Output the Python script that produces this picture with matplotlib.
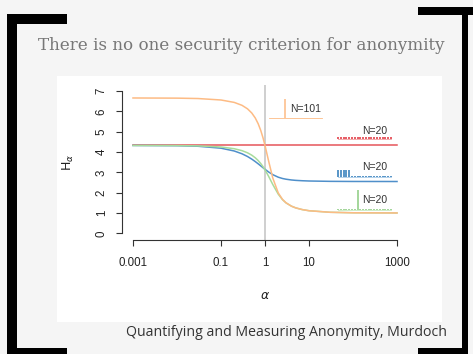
import matplotlib
matplotlib.use('Agg')
import matplotlib.pyplot as plt
import numpy as np
from matplotlib.patches import Rectangle

# Valeurs (entropie de Renyi H_alpha selon alpha)
alpha = [0.001, 0.01, 0.03, 0.1, 0.2, 0.3, 0.4, 0.5, 0.6, 0.7, 0.8, 0.9, 1,
         1.2, 1.5, 2, 2.5, 3, 4, 5, 7, 10, 30, 100, 1000]
h_orange = [6.657, 6.649, 6.630, 6.558, 6.439, 6.296, 6.124, 5.919, 5.675, 5.389,
            5.061, 4.702, 4.322, 3.583, 2.725, 1.986, 1.666, 1.500, 1.333, 1.250,
            1.167, 1.111, 1.034, 1.010, 1.001]
h_red = [4.322] * len(alpha)
h_blue = [4.321, 4.309, 4.282, 4.187, 4.049, 3.912, 3.778, 3.650, 3.529, 3.418,
          3.318, 3.228, 3.149, 3.020, 2.886, 2.760, 2.696, 2.661, 2.623, 2.604,
          2.586, 2.573, 2.556, 2.550, 2.548]
h_green = [4.321, 4.315, 4.300, 4.246, 4.161, 4.066, 3.961, 3.844, 3.716, 3.579,
           3.433, 3.281, 3.124, 2.815, 2.404, 1.926, 1.655, 1.498, 1.333, 1.250,
           1.167, 1.111, 1.034, 1.010, 1.001]

# Distributions des petits histogrammes
p_orange = [0.005] * 30 + [0.5] + [0.005] * 70
p_red = [0.05] * 20
p_blue = [0.171] * 5 + [0.0097] * 15
p_green = [0.0263] * 7 + [0.5] + [0.0263] * 12
labels_n = ['N=101', 'N=20', 'N=20', 'N=20']

xticks = [0.001, 0.1, 1, 10, 1000]
xtick_labels = ['0.001', '0.1', '1', '10', '1000']
yticks = [0, 1, 2, 3, 4, 5, 6, 7]

c_orange = '#fdbb84'
c_red = '#e6555a'
c_blue = '#4f8fca'
c_green = '#a8dc9c'

W, H = 473, 354
fig = plt.figure(figsize=(W / 100, H / 100), dpi=100, facecolor='#f5f5f5')


def box(x0, y0, x1, y1, color, z=1):
    # boite en pixels (origine en haut a gauche)
    fig.add_artist(Rectangle((x0 / W, 1 - y1 / H), (x1 - x0) / W, (y1 - y0) / H,
                             transform=fig.transFigure, facecolor=color,
                             edgecolor='none', zorder=z))


# fond blanc du graphique
box(57, 76, 442, 322, 'white', z=0)

# cadre noir
box(7, 14, 17, 354, 'black')
box(7, 14, 67, 24, 'black')
box(7, 348, 67, 354, 'black')
box(418, 7, 473, 15, 'black')
box(462, 7, 468, 354, 'black')
box(418, 348, 468, 354, 'black')

fig.text(241.5 / W, 1 - 45 / H, 'There is no one security criterion for anonymity',
         ha='center', va='center', fontsize=12.05, color='#777777',
         family='DejaVu Serif', fontweight='light')
fig.text(447 / W, 1 - 332 / H, 'Quantifying and Measuring Anonymity, Murdoch',
         ha='right', va='center', fontsize=10.2, color='#333333', family='Open Sans')

ax = fig.add_axes([0.2588, 0.322, 0.6029, 0.437])
ax.patch.set_alpha(0)
ax.set_xscale('log')
ax.set_xlim(10 ** -3.24, 10 ** 3.24)
ax.set_ylim(-0.33, 7.28)

ax.axvline(1, color='#cccccc', lw=1.3, zorder=1)

ax.plot(alpha, h_red, color=c_red, lw=1.1, zorder=3)
ax.plot(alpha, h_blue, color=c_blue, lw=1.1, zorder=3)
ax.plot(alpha, h_green, color=c_green, lw=1.1, zorder=3)
ax.plot(alpha, h_orange, color=c_orange, lw=1.1, zorder=4)

# petits histogrammes
insets = [
    (p_orange, 5.68, 0.09, 1.30, c_orange, c_orange, 3.7, 6.12),
    (p_red, 4.63, 1.66, 2.86, '#e0303a', '#f0a0a0', 158, 5.04),
    (p_blue, 2.79, 1.66, 2.86, '#2a78b8', '#a8cbe8', 158, 3.28),
    (p_green, 1.17, 1.66, 2.86, '#8ccc80', '#c8eabf', 158, 1.62),
]
scale = 1.9
for (probs, base, lx0, lx1, cbar, cbase, tx, ty), lab in zip(insets, labels_n):
    xs = np.logspace(lx0, lx1, len(probs))
    ax.plot([xs[0], xs[-1]], [base, base], color=cbase, lw=0.6, zorder=2)
    ax.vlines(xs, base, base + np.array(probs) * scale, color=cbar, lw=1.1, zorder=2)
    ax.text(tx, ty, lab, fontsize=7.5, color='#333333', ha='left', va='center',
            family='Liberation Sans')

for s in ['top', 'right']:
    ax.spines[s].set_visible(False)
ax.spines['left'].set_bounds(0, 7)
ax.spines['bottom'].set_bounds(0.001, 1000)
for s in ['left', 'bottom']:
    ax.spines[s].set_color('#333333')
    ax.spines[s].set_linewidth(0.8)

ax.set_xticks(xticks)
ax.set_xticklabels(xtick_labels, family='Liberation Sans', fontsize=8.3, color='#222222')
ax.xaxis.set_minor_locator(matplotlib.ticker.NullLocator())
ax.set_yticks(yticks)
ax.set_yticklabels([str(v) for v in yticks], rotation=90, va='center',
                   family='Liberation Sans', fontsize=8.3, color='#222222')
ax.tick_params(axis='both', length=4.5, width=0.8, color='#333333')
ax.tick_params(axis='x', pad=8)
ax.tick_params(axis='y', pad=6)

ax.set_xlabel(r'$\alpha$', fontsize=9, color='#222222', labelpad=14)
ax.set_ylabel(r'$\mathrm{H}_\alpha$', fontsize=9, color='#222222', labelpad=14)

plt.savefig('out.png', dpi=100, facecolor=fig.get_facecolor())
